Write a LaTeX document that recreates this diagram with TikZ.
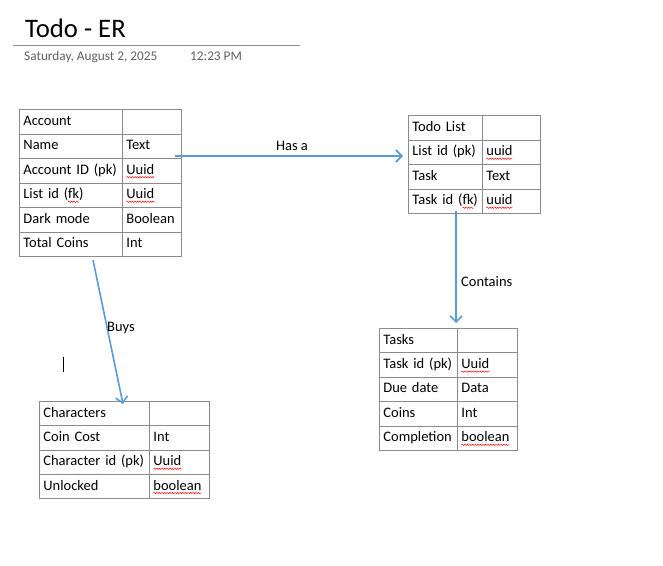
\documentclass[tikz,border=0pt]{standalone}
\usepackage{fontspec}
\setmainfont{Carlito}
\usetikzlibrary{arrows.meta,decorations.pathmorphing}

\definecolor{linkblue}{HTML}{5B9BD5}
\definecolor{gridgray}{HTML}{8A8A8A}
\definecolor{dategray}{HTML}{606060}

% spell-check underline
\newcommand{\spl}[1]{\setbox0=\hbox{#1}%
  \rlap{\tikz[overlay,baseline=0pt]\draw[red, line width=0.45pt, decorate,
    decoration={snake, amplitude=0.7pt, segment length=2.6pt}]
    (0pt,-3pt) -- (\wd0,-3pt);}#1}

% name, x, y, width col 1, width col 2, row height, rows
\newcommand{\ertable}[7]{%
  \pgfmathsetmacro{\twa}{#4-8}
  \pgfmathsetmacro{\twb}{#5-8}
  \foreach \ka/\kb [count=\i from 0] in {#7} {
    \node[cell, minimum width=#4pt, text width=\twa pt, minimum height=#6pt]
      (#1-\i-a) at ({#2}, {#3+\i*#6}) {\ka};
    \node[cell, minimum width=#5pt, text width=\twb pt, minimum height=#6pt]
      (#1-\i-b) at ({#2+#4}, {#3+\i*#6}) {\kb};
  }
}

\tikzset{
  cell/.style={draw=gridgray, line width=0.8pt, anchor=north west,
    inner xsep=4pt, inner ysep=0pt, align=left,
    text height=1.95ex, text depth=0.45ex,
    font=\fontsize{14.5}{16}\selectfont},
  lbl/.style={font=\fontsize{14.5}{16}\selectfont, inner sep=0pt},
  link/.style={draw=linkblue, line width=1.6pt,
    -{Straight Barb[length=6pt,width=12pt]}}
}

\begin{document}
\begin{tikzpicture}[x=1pt,y=-1pt]
  \useasboundingbox (0,0) rectangle (663,565);

  % header
  \node[anchor=base west, inner sep=0pt, font=\fontsize{26.7}{30}\selectfont]
    (title) at (25,37) {Todo - ER};
  \draw[gridgray, line width=0.8pt] (13,45) -- (300,45);
  \node[anchor=base west, inner sep=0pt, text=dategray, font=\fontsize{13.3}{15}\selectfont]
    (date) at (24,60) {Saturday, August 2, 2025};
  \node[anchor=base west, inner sep=0pt, text=dategray, font=\fontsize{13.3}{15}\selectfont]
    (time) at (190,60) {12:23 PM};

  % tables
  \ertable{acc}{19}{109}{103}{59}{24.5}{Account/, Name/Text,
    Account ID (pk)/\spl{Uuid}, List id (\spl{fk})/\spl{Uuid},
    Dark mode/Boolean, Total Coins/Int}
  \ertable{list}{408}{115}{74}{58}{24.5}{Todo List/, List id (pk)/\spl{uuid},
    Task/Text, Task id (\spl{fk})/\spl{uuid}}
  \ertable{tasks}{379}{328}{78}{60}{24.4}{Tasks/, Task id (pk)/\spl{Uuid},
    Due date/Data, Coins/Int, Completion/\spl{boolean}}
  \ertable{chars}{39}{401}{110}{60}{24.3}{Characters/, Coin Cost/Int,
    Character id (pk)/\spl{Uuid}, Unlocked/\spl{boolean}}

  % connectors
  \coordinate (hasa-s) at (175,156);
  \coordinate (hasa-e) at (403,156);
  \coordinate (buys-s) at (93,260);
  \coordinate (buys-e) at (123,404);
  \coordinate (cont-s) at (456,211);
  \coordinate (cont-e) at (456,323);
  \draw[link] (hasa-s) -- (hasa-e);
  \draw[link] (buys-s) -- (buys-e);
  \draw[link] (cont-s) -- (cont-e);
  \node[lbl] (hasa) at (292,146) {Has a};
  \node[lbl, anchor=west] (buys) at (107,328) {Buys};
  \node[lbl, anchor=west] (cont) at (461,282) {Contains};

  % text cursor
  \draw[line width=0.8pt] (63,357) -- (63,372);
\end{tikzpicture}
\end{document}
